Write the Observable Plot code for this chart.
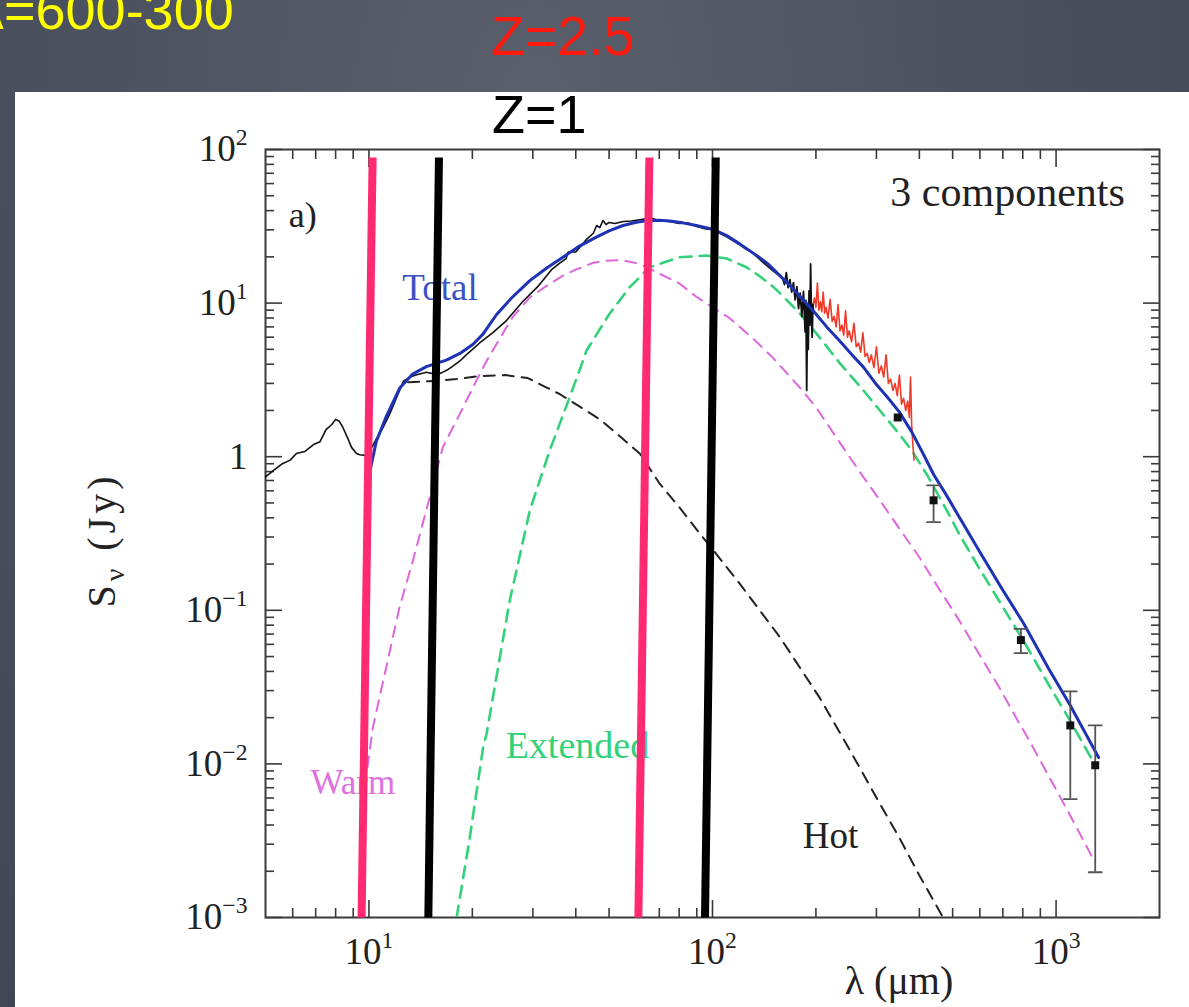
<!DOCTYPE html>
<html>
<head>
<meta charset="utf-8">
<script src="https://cdn.jsdelivr.net/npm/d3@7"></script>
<script src="https://cdn.jsdelivr.net/npm/@observablehq/plot@0.6"></script>
<style>
  html, body { margin: 0; padding: 0; width: 1189px; height: 1007px; overflow: hidden; }
  body {
    position: relative;
    background: radial-gradient(ellipse at 45% 10%, #5b606d 0%, #4d5260 45%, #3f4452 100%);
  }
  #panel { position: absolute; left: 15px; top: 92px; width: 1174px; height: 915px; background: #fff; }
  #overlay { position: absolute; left: 0; top: 0; width: 1189px; height: 1007px; pointer-events: none; }
</style>
</head>
<body>
<div id="panel"></div>
<svg id="overlay" width="1189" height="1007">
  <text x="-23" y="29" font-family="Liberation Sans, Arial, sans-serif" font-size="54" fill="#ffff00">λ=600-300</text>
  <text x="491" y="55" font-family="Liberation Sans, Arial, sans-serif" font-size="55.5" fill="#ff1a0d">Z=2.5</text>
  <text x="492" y="133" font-family="Liberation Sans, Arial, sans-serif" font-size="54" fill="#000">Z=1</text>
</svg>
<script>
// ---------- data (wavelength in µm, flux density in Jy) ----------
const obsLambda = [5, 5.3, 5.6, 5.9, 6.15, 6.5, 6.9, 7.2, 7.5, 7.8, 8.0, 8.2, 8.4, 8.7, 8.9, 9.2, 9.4, 9.8, 10.2, 10.5, 11, 11.5, 12.1, 12.6, 13.2, 13.7, 14.7, 15.5, 16.2, 17, 17.6, 18.4, 19.2, 21, 22.9, 25, 28, 31, 34, 36, 37.5, 38, 40, 43, 45, 46, 47, 48, 49, 50, 52, 55, 58, 62, 66, 70, 75, 80, 85, 90, 95, 100, 110, 120, 125, 130, 140, 150, 160];
const obsFlux   = [0.74, 0.82, 0.9, 0.95, 1.05, 1.08, 1.2, 1.25, 1.5, 1.62, 1.75, 1.7, 1.55, 1.3, 1.15, 1.05, 1.03, 1.02, 1.15, 1.3, 1.55, 1.9, 2.5, 3.1, 3.3, 3.4, 3.55, 3.45, 3.5, 3.7, 3.9, 4.2, 4.6, 5.5, 6.4, 7.6, 10.2, 12.8, 16.5, 18.3, 19.5, 21.5, 21.5, 26, 28.5, 32, 31, 34.5, 32.5, 33.5, 33, 34, 34.2, 35, 35.8, 34.5, 34, 33, 33.2, 31.5, 30.5, 30, 27, 24, 22.5, 21.5, 18.5, 16.2, 14.5];

const noiseLambda = [160, 162, 164, 166, 168, 170, 172, 174, 176, 178, 180, 182, 184, 186, 187, 188, 189, 190, 191, 192, 193, 194, 195, 196, 197];
const noiseFlux   = [14.5, 13.2, 15.8, 12.6, 14.2, 11.8, 13.6, 10.5, 12.8, 9.2, 11.6, 8.2, 11.9, 6.5, 10.4, 2.7, 9.5, 5.0, 12.0, 7.2, 18.0, 8.5, 6.0, 9.8, 8.6];

const redLambda = [196, 198, 200, 202, 204, 206, 208, 210, 212, 214, 217, 220, 223, 226, 229, 232, 235, 238, 241, 244, 247, 250, 254, 258, 262, 266, 270, 274, 278, 282, 286, 290, 295, 300, 305, 310, 315, 320, 325, 330, 335, 340, 345, 350, 355, 360, 365, 370, 374, 377, 380, 383, 386];
const redFlux   = [9.6, 10.8, 9.4, 13.5, 9.0, 10.2, 8.8, 11.8, 8.6, 9.4, 8.0, 10.6, 7.6, 8.2, 7.0, 9.8, 6.6, 7.2, 6.2, 8.9, 6.0, 6.6, 5.6, 7.4, 5.2, 5.5, 4.8, 6.4, 4.5, 4.7, 4.1, 4.6, 3.8, 5.2, 3.5, 3.9, 3.3, 4.6, 3.0, 3.2, 2.7, 3.0, 2.5, 3.4, 2.2, 2.4, 2.0, 2.3, 1.8, 3.3, 1.6, 1.2, 0.95];

const totalLambda = [10, 10.5, 11.2, 12.3, 13.4, 14.7, 16.8, 18.4, 20.1, 21.5, 23.5, 26, 29.4, 33, 36.7, 41, 45.9, 50, 54.9, 60, 64.2, 70, 75, 82, 89.7, 100, 110, 120, 135, 145, 160, 170, 185, 200, 215, 234, 255, 275, 300, 323, 350, 380, 410, 441, 480, 524, 600, 700, 805, 950, 1100, 1330];
const totalFlux   = [0.75, 1.25, 1.8, 2.8, 3.45, 3.86, 4.25, 4.7, 5.4, 6.3, 8.4, 10.8, 14.0, 17.0, 19.9, 23.5, 26.9, 29.5, 32.0, 33.6, 34.3, 34.6, 34.2, 33.3, 32.0, 30.3, 27.5, 24.3, 20.3, 18.0, 14.5, 12.7, 10.3, 8.5, 7.0, 5.7, 4.6, 3.83, 2.95, 2.44, 1.95, 1.45, 1.05, 0.76, 0.56, 0.40, 0.24, 0.135, 0.082, 0.042, 0.024, 0.011];

const warmLambda = [9.9, 10.27, 12.28, 13.43, 15.03, 16.4, 18.4, 20.1, 22, 23.5, 26.2, 29.4, 32.8, 36.7, 40, 45, 49.1, 54, 57.4, 61.4, 68.7, 80.2, 89.7, 100, 112, 131, 150, 180, 200, 234, 270, 307, 350, 401, 450, 524, 600, 686, 760, 827, 953, 1100, 1283];
const warmFlux   = [0.0095, 0.0173, 0.105, 0.211, 0.545, 1.15, 1.9, 2.84, 4.2, 5.4, 8.1, 10.9, 12.9, 15.1, 16.5, 18.3, 18.9, 19.0, 18.6, 18.0, 15.9, 13.4, 11.0, 9.4, 8.0, 5.9, 4.4, 2.8, 2.1, 1.25, 0.78, 0.52, 0.34, 0.22, 0.145, 0.085, 0.051, 0.031, 0.0205, 0.0148, 0.0083, 0.0046, 0.0024];

const extLambda = [18, 19.6, 21.5, 22, 25.7, 29.4, 33.6, 38.4, 41, 43, 50.1, 57.4, 65.6, 80.2, 95.9, 110, 125.6, 137, 150, 161, 180, 200, 234, 275, 307, 350, 380, 423, 480, 524, 600, 700, 805, 950, 1100, 1310];
const extFlux   = [0.001, 0.00317, 0.0128, 0.0157, 0.116, 0.447, 1.10, 2.44, 3.64, 4.91, 8.5, 12.7, 17.1, 19.9, 20.4, 19.5, 17.1, 15, 12.8, 11, 8.5, 6.4, 4.1, 2.7, 2.0, 1.4, 1.1, 0.75, 0.45, 0.31, 0.185, 0.105, 0.063, 0.033, 0.019, 0.0095];

const hotLambda = [13, 15, 18, 21, 25, 29, 32.8, 35.9, 40, 47, 55, 61.4, 70.2, 80, 91.9, 100, 120, 157, 205, 250, 303, 350, 399, 469];
const hotFlux   = [3.05, 3.1, 3.2, 3.35, 3.4, 3.25, 2.83, 2.56, 2.2, 1.75, 1.3, 1.05, 0.667, 0.47, 0.315, 0.25, 0.149, 0.067, 0.027, 0.0125, 0.0058, 0.0033, 0.0019, 0.001];

const photLambda = [346, 440, 790, 1100, 1300];
const photFlux   = [1.8, 0.52, 0.064, 0.0178, 0.0098];
const photLow    = [null, 0.375, 0.0526, 0.0059, 0.00197];
const photHigh   = [null, 0.65, 0.0757, 0.0297, 0.0178];

// hand-drawn overlay bars (wavelength at top / bottom of each bar)
const barTop    = [10.25, 15.99, 65.5, 102.2];
const barBottom = [9.52, 14.89, 60.85, 95.1];
const barColor  = ["#ff2a70", "#000000", "#ff2a70", "#000000"];
const barTopFlux = 88.7;
const barBottomFlux = 0.001;

const xMajor = [10, 100, 1000];
const xMajorLabels = ["10^1", "10^2", "10^3"];
const xMinor = [6, 7, 8, 9, 20, 30, 40, 50, 60, 70, 80, 90, 200, 300, 400, 500, 600, 700, 800, 900];
const yMajor = [1e-3, 1e-2, 1e-1, 1, 10, 100];
const yMajorLabels = ["10^−3", "10^−2", "10^−1", "1", "10^1", "10^2"];
const yMinor = [];
for (const d of [1e-3, 1e-2, 1e-1, 1, 10]) for (const m of [2, 3, 4, 5, 6, 7, 8, 9]) yMinor.push(+(d * m).toPrecision(3));

// ---------- tables ----------
const zip = (xs, ys) => xs.map((x, i) => ({x, y: ys[i]}));
const obs = zip(obsLambda, obsFlux);
const noise = zip(noiseLambda, noiseFlux);
const red = zip(redLambda, redFlux);
const total = zip(totalLambda, totalFlux);
const warm = zip(warmLambda, warmFlux);
const ext = zip(extLambda, extFlux);
const hot = zip(hotLambda, hotFlux);
const phot = photLambda.map((x, i) => ({x, y: photFlux[i], lo: photLow[i], hi: photHigh[i]}));
const errs = phot.filter(d => d.lo != null);
const caps = errs.flatMap(d => [{x: d.x, y: d.lo}, {x: d.x, y: d.hi}]);
const bars = barTop.map((t, i) => ({x1: t, x2: barBottom[i], y1: barTopFlux, y2: barBottomFlux, c: barColor[i]}));
const xLabelOf = new Map(xMajor.map((v, i) => [v, xMajorLabels[i]]));
const yLabelOf = new Map(yMajor.map((v, i) => [v, yMajorLabels[i]]));

const capShape = {draw(ctx, l) { ctx.moveTo(-l / 2, 0); ctx.lineTo(l / 2, 0); }};
const serif = "Liberation Serif, Times New Roman, serif";
const frameColor = "#3a3a3a";

const chart = Plot.plot({
  width: 1174,
  height: 915,
  marginLeft: 250,
  marginRight: 30,
  marginTop: 57,
  marginBottom: 90,
  x: {type: "log", domain: [5, 2000], axis: null},
  y: {type: "log", domain: [1e-3, 1e2], axis: null},
  style: {background: "#ffffff", fontFamily: serif, color: "#222"},
  marks: [
    // inward ticks on all four sides
    Plot.axisX(xMinor, {anchor: "bottom", tickSize: -9, text: null, stroke: frameColor, strokeWidth: 1.6}),
    Plot.axisX(xMajor, {anchor: "bottom", tickSize: -17, text: null, stroke: frameColor, strokeWidth: 1.6}),
    Plot.axisX(xMinor, {anchor: "top", tickSize: -9, text: null, stroke: frameColor, strokeWidth: 1.6}),
    Plot.axisX(xMajor, {anchor: "top", tickSize: -17, text: null, stroke: frameColor, strokeWidth: 1.6}),
    Plot.axisY(yMinor, {anchor: "left", tickSize: -9, text: null, stroke: frameColor, strokeWidth: 1.6}),
    Plot.axisY(yMajor, {anchor: "left", tickSize: -17, text: null, stroke: frameColor, strokeWidth: 1.6}),
    Plot.axisY(yMinor, {anchor: "right", tickSize: -9, text: null, stroke: frameColor, strokeWidth: 1.6}),
    Plot.axisY(yMajor, {anchor: "right", tickSize: -17, text: null, stroke: frameColor, strokeWidth: 1.6}),
    // tick labels
    Plot.axisX(xMajor, {anchor: "bottom", tickSize: 0, tickPadding: 20, tickFormat: d => xLabelOf.get(d), fontSize: 37, fontFamily: serif, fill: "#222"}),
    Plot.axisY(yMajor, {anchor: "left", tickSize: 0, tickPadding: 18, tickFormat: d => yLabelOf.get(d), fontSize: 37, fontFamily: serif, fill: "#222"}),
    Plot.frame({stroke: frameColor, strokeWidth: 2}),

    // component models
    Plot.line(hot, {x: "x", y: "y", stroke: "#222", strokeWidth: 2, strokeDasharray: "11,8", clip: true}),
    Plot.line(warm, {x: "x", y: "y", stroke: "#dd66dd", strokeWidth: 2, strokeDasharray: "11,8", clip: true}),
    Plot.line(ext, {x: "x", y: "y", stroke: "#33d17a", strokeWidth: 2.6, strokeDasharray: "12,8", clip: true}),

    // observed spectra
    Plot.line(obs, {x: "x", y: "y", stroke: "#111", strokeWidth: 1.6, clip: true}),
    Plot.line(red, {x: "x", y: "y", stroke: "#f03a2a", strokeWidth: 1.6, clip: true}),
    Plot.line(noise, {x: "x", y: "y", stroke: "#111", strokeWidth: 1.8, clip: true}),

    // total model
    Plot.line(total, {x: "x", y: "y", stroke: "#1e32b4", strokeWidth: 3, clip: true}),

    // photometry with error bars
    Plot.ruleX(errs, {x: "x", y1: "lo", y2: "hi", stroke: "#555", strokeWidth: 1.8}),
    Plot.vector(caps, {x: "x", y: "y", length: 13, rotate: 0, anchor: "start", shape: capShape, stroke: "#555", strokeWidth: 1.8}),
    Plot.dot(phot, {x: "x", y: "y", symbol: "square", r: 4.5, fill: "#111", stroke: "none"}),

    // curve labels
    Plot.text(["a)"], {x: () => 5.84, y: () => 37.2, text: d => d, textAnchor: "start", fontSize: 36, fontFamily: serif, fill: "#222"}),
    Plot.text(["3 components"], {x: () => 1585, y: () => 52.5, text: d => d, textAnchor: "end", fontSize: 42, fontFamily: serif, fill: "#222"}),
    Plot.text(["Total"], {x: () => 12.5, y: () => 12.6, text: d => d, textAnchor: "start", fontSize: 37, fontFamily: serif, fill: "#3d52c2"}),
    Plot.text(["Warm"], {x: () => 6.76, y: () => 0.00757, text: d => d, textAnchor: "start", fontSize: 35, fontFamily: serif, fill: "#e070e0"}),
    Plot.text(["Extended"], {x: () => 25.0, y: () => 0.0132, text: d => d, textAnchor: "start", fontSize: 38, fontFamily: serif, fill: "#33d17a"}),
    Plot.text(["Hot"], {x: () => 183, y: () => 0.00336, text: d => d, textAnchor: "start", fontSize: 37, fontFamily: serif, fill: "#222"}),

    // hand-drawn bars on top
    Plot.link(bars, {x1: "x1", y1: "y1", x2: "x2", y2: "y2", stroke: "c", strokeWidth: 8})
  ]
});

chart.style.position = "absolute";
chart.style.left = "15px";
chart.style.top = "92px";
document.body.insertBefore(chart, document.getElementById("overlay"));

const svg = d3.select(chart);

// turn "10^n" tick labels into base + raised exponent
svg.selectAll('g[aria-label="x-axis tick label"] text, g[aria-label="y-axis tick label"] text').each(function () {
  const s = this.textContent;
  const k = s.indexOf("^");
  if (k < 0) return;
  this.textContent = s.slice(0, k);
  d3.select(this).append("tspan")
    .attr("font-size", "0.64em")
    .attr("dy", "-0.68em")
    .text(s.slice(k + 1));
});

// axis titles
const yt = svg.append("text")
  .attr("transform", "translate(100,448) rotate(-90)")
  .attr("text-anchor", "middle")
  .attr("font-family", serif)
  .attr("font-size", 40)
  .attr("letter-spacing", 4)
  .attr("fill", "#222");
yt.append("tspan").text("S");
yt.append("tspan").attr("font-size", 28).attr("dy", 9).text("ν");
yt.append("tspan").attr("dy", -9).text(" (Jy)");
svg.append("text")
  .attr("x", 884).attr("y", 902)
  .attr("text-anchor", "middle")
  .attr("font-family", serif)
  .attr("font-size", 40)
  .attr("fill", "#222")
  .text("λ (μm)");
</script>
</body>
</html>
